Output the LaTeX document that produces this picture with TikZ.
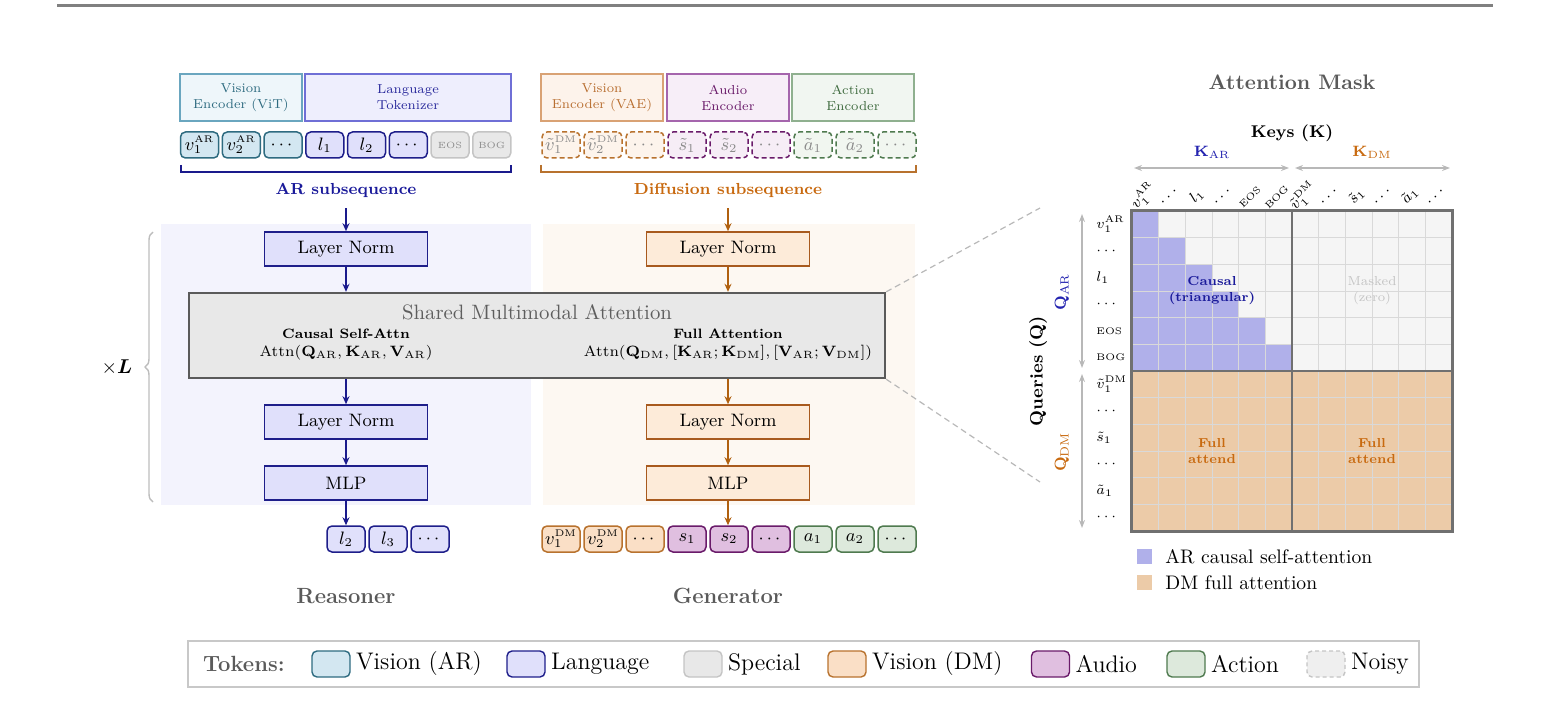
\RequirePackage{fix-cm}
\documentclass[tikz,border=0pt]{standalone}
\usepackage{amsmath,bm}
\usetikzlibrary{arrows.meta,decorations.pathreplacing,calc}
\newcommand\tsup[1]{\mbox{\fontsize{4.8}{5}\selectfont #1}}
\definecolor{cVarF}{HTML}{D3E7F1}\definecolor{cVarD}{HTML}{2E6B80}
\definecolor{cLanF}{HTML}{E0E0FB}\definecolor{cLanD}{HTML}{1E1E8A}
\definecolor{cSpF}{HTML}{E8E8E8}\definecolor{cSpD}{HTML}{C4C4C4}
\definecolor{cVdmF}{HTML}{FADFC6}\definecolor{cVdmD}{HTML}{B8722E}
\definecolor{cAuF}{HTML}{E0BFE0}\definecolor{cAuD}{HTML}{6A1B6A}
\definecolor{cAcF}{HTML}{DDE9DC}\definecolor{cAcD}{HTML}{4F7A4F}
\definecolor{cNvF}{HTML}{FDF4EC}\definecolor{cNaF}{HTML}{F6EDF6}\definecolor{cNcF}{HTML}{F1F6F0}
\definecolor{cVitF}{HTML}{EEF6FA}\definecolor{cVitD}{HTML}{6AA6BF}\definecolor{cVitT}{HTML}{2E6B80}
\definecolor{cTokF}{HTML}{EEEEFD}\definecolor{cTokD}{HTML}{6F6FD6}\definecolor{cTokT}{HTML}{2A2A9C}
\definecolor{cVaeF}{HTML}{FDF3EB}\definecolor{cVaeD}{HTML}{D9A274}\definecolor{cVaeT}{HTML}{B86E30}
\definecolor{cAenF}{HTML}{F7EEF8}\definecolor{cAenD}{HTML}{A565AD}\definecolor{cAenT}{HTML}{6A1B6A}
\definecolor{cCenF}{HTML}{F1F6F1}\definecolor{cCenD}{HTML}{8FB08F}\definecolor{cCenT}{HTML}{3F6B3F}
\definecolor{cPanL}{HTML}{F3F3FD}\definecolor{cPanR}{HTML}{FDF8F2}
\definecolor{cLnRF}{HTML}{FDEBD9}\definecolor{cLnRD}{HTML}{A85A1E}
\definecolor{cShF}{HTML}{E8E8E8}\definecolor{cShD}{HTML}{5A5A5A}\definecolor{cShT}{HTML}{5E5E5E}
\definecolor{cArL}{HTML}{1A1A8C}\definecolor{cArR}{HTML}{B0600F}
\definecolor{cARt}{HTML}{1A1A9A}\definecolor{cDMt}{HTML}{C8690F}
\definecolor{cBrace}{HTML}{BDBDBD}\definecolor{cRule}{HTML}{808080}
\definecolor{cBlueM}{HTML}{B0B0EA}\definecolor{cGrayM}{HTML}{F5F5F5}\definecolor{cOrM}{HTML}{ECCBA8}
\definecolor{cGrid}{HTML}{D9D9D9}\definecolor{cQb}{HTML}{707070}
\definecolor{cGArr}{HTML}{B8B8B8}\definecolor{cKar}{HTML}{2424B0}\definecolor{cKdm}{HTML}{C86A10}
\definecolor{cLegD}{HTML}{C8C8C8}\definecolor{cGrayT}{HTML}{5A5A5A}\definecolor{cMaskT}{HTML}{C4C4C4}
\definecolor{cNoisyT}{HTML}{8A8A8A}
\begin{document}
\begin{tikzpicture}[x=0.5pt,y=-0.5pt,
  tokbase/.style={rounded corners=2.5pt, minimum width=19pt, minimum height=13pt, inner sep=0pt, line width=0.75pt, font=\fontsize{9}{10}\selectfont},
  tvar/.style={tokbase, draw=cVarD, fill=cVarF},
  tlan/.style={tokbase, draw=cLanD, fill=cLanF},
  tspc/.style={tokbase, draw=cSpD, fill=cSpF, text=cNoisyT, font=\fontsize{4.5}{5}\selectfont},
  tvdm/.style={tokbase, draw=cVdmD, fill=cVdmF},
  taud/.style={tokbase, draw=cAuD, fill=cAuF},
  tact/.style={tokbase, draw=cAcD, fill=cAcF},
  nvdm/.style={tokbase, dash pattern=on 2.5pt off 1.5pt, draw=cVdmD, fill=cNvF, text=cNoisyT},
  naud/.style={tokbase, dash pattern=on 2.5pt off 1.5pt, draw=cAuD, fill=cNaF, text=cNoisyT},
  nact/.style={tokbase, dash pattern=on 2.5pt off 1.5pt, draw=cAcD, fill=cNcF, text=cNoisyT},
  enc/.style={minimum height=23.5pt, inner sep=0pt, line width=0.6pt, align=center, font=\fontsize{6.5}{8}\selectfont},
  blk/.style={minimum width=81.5pt, minimum height=17pt, inner sep=0pt, line width=0.8pt, font=\fontsize{9}{10}\selectfont},
  blkL/.style={blk, draw=cLanD, fill=cLanF},
  blkR/.style={blk, draw=cLnRD, fill=cLnRF},
  arL/.style={draw=cArL, line width=0.75pt, -{Stealth[length=4pt,width=3.5pt]}},
  arR/.style={draw=cArR, line width=0.75pt, -{Stealth[length=4pt,width=3.5pt]}},
  garr/.style={draw=cGArr, line width=0.6pt, {Stealth[length=4pt,width=3pt]}-{Stealth[length=4pt,width=3pt]}},
  zoomln/.style={draw=cGArr, line width=0.6pt, dash pattern=on 3pt off 2pt},
  gridl/.style={draw=cGrid, line width=0.5pt},
  qb/.style={draw=cQb, line width=1.2pt},
  lsw/.style={rounded corners=2.5pt, minimum width=19pt, minimum height=13pt, inner sep=0pt, line width=0.7pt},
  ltx/.style={anchor=west, font=\fontsize{12}{14}\selectfont, inner sep=2.5pt},
  collab/.style={rotate=45, font=\fontsize{7.5}{8}\selectfont, inner sep=0pt},
  rowlab/.style={anchor=west, font=\fontsize{7}{8}\selectfont, inner sep=0pt},
  tinyf/.style={font=\fontsize{4.8}{5}\selectfont}
]
\useasboundingbox (0,0) rectangle (1553,701);
\draw[draw=cRule, line width=1.4pt] (57,5.3) -- (1493,5.3);

% panels
\fill[cPanL] (161,224) rectangle (531,505);
\fill[cPanR] (543,224) rectangle (915,505);

% encoders
\node[enc, draw=cVitD, fill=cVitF, text=cVitT, minimum width=61pt] (evit) at (241,97.5) {Vision\\Encoder (ViT)};
\node[enc, draw=cTokD, fill=cTokF, text=cTokT, minimum width=103pt] (etok) at (408,97.5) {Language\\Tokenizer};
\node[enc, draw=cVaeD, fill=cVaeF, text=cVaeT, minimum width=61pt] (evae) at (602,97.5) {Vision\\Encoder (VAE)};
\node[enc, draw=cAenD, fill=cAenF, text=cAenT, minimum width=61pt] (eaud) at (728,97.5) {Audio\\Encoder};
\node[enc, draw=cCenD, fill=cCenF, text=cCenT, minimum width=61pt] (eact) at (853,97.5) {Action\\Encoder};

% input tokens AR
\node[tvar] (ta0) at (199.5,145) {$v_1^{\tsup{AR}}$};
\node[tvar] (ta1) at (241.25,145) {$v_2^{\tsup{AR}}$};
\node[tvar] (ta2) at (283,145) {$\cdots$};
\node[tlan] (ta3) at (324.75,145) {$l_1$};
\node[tlan] (ta4) at (366.5,145) {$l_2$};
\node[tlan] (ta5) at (408.25,145) {$\cdots$};
\node[tspc] (ta6) at (450,145) {EOS};
\node[tspc] (ta7) at (491.75,145) {BOG};

% input tokens noisy
\node[nvdm] (tb0) at (561,145) {$\tilde v_1^{\tsup{DM}}$};
\node[nvdm] (tb1) at (603,145) {$\tilde v_2^{\tsup{DM}}$};
\node[nvdm] (tb2) at (645,145) {$\cdots$};
\node[naud] (tb3) at (687,145) {$\tilde s_1$};
\node[naud] (tb4) at (729,145) {$\tilde s_2$};
\node[naud] (tb5) at (771,145) {$\cdots$};
\node[nact] (tb6) at (813,145) {$\tilde a_1$};
\node[nact] (tb7) at (855,145) {$\tilde a_2$};
\node[nact] (tb8) at (897,145) {$\cdots$};

% brackets
\draw[cArL, line width=0.9pt] (181,165) -- (181,172) -- (511,172) -- (511,165);
\draw[cVdmD, line width=0.9pt] (541,165) -- (541,172) -- (916,172) -- (916,165);

\node[font=\bfseries\fontsize{8}{9}\selectfont, text=cARt] (arlab) at (346,190) {AR subsequence};
\node[font=\bfseries\fontsize{8}{9}\selectfont, text=cDMt] (dmlab) at (728,190) {Diffusion subsequence};

% blocks
\node[blkL] (ln1L) at (346,249) {Layer Norm};
\node[blkR] (ln1R) at (728,249) {Layer Norm};
\node[draw=cShD, fill=cShF, line width=1.2pt, minimum width=348pt, minimum height=42.5pt, inner sep=0pt] (shared) at (537,335.5) {};
\node[font=\fontsize{10.4}{12}\selectfont, text=cShT] (shtitle) at (537,312) {Shared Multimodal Attention};
\node[font=\bfseries\fontsize{6.8}{8}\selectfont] (csa) at (346,334) {Causal Self-Attn};
\node[font=\fontsize{7.5}{9}\selectfont] (csaf) at (346,353) {$\mathrm{Attn}(\mathbf{Q}_{\mathrm{AR}},\mathbf{K}_{\mathrm{AR}},\mathbf{V}_{\mathrm{AR}})$};
\node[font=\bfseries\fontsize{6.8}{8}\selectfont] (fa) at (728,334) {Full Attention};
\node[font=\fontsize{7.5}{9}\selectfont] (faf) at (728,353) {$\mathrm{Attn}(\mathbf{Q}_{\mathrm{DM}},[\mathbf{K}_{\mathrm{AR}};\mathbf{K}_{\mathrm{DM}}],[\mathbf{V}_{\mathrm{AR}};\mathbf{V}_{\mathrm{DM}}])$};
\node[blkL] (ln2L) at (346,422) {Layer Norm};
\node[blkR] (ln2R) at (728,422) {Layer Norm};
\node[blkL] (mlpL) at (346,483) {MLP};
\node[blkR] (mlpR) at (728,483) {MLP};

% output tokens
\node[tlan] (oa0) at (346,539) {$l_2$};
\node[tlan] (oa1) at (388,539) {$l_3$};
\node[tlan] (oa2) at (430,539) {$\cdots$};
\node[tvdm] (ob0) at (561,539) {$v_1^{\tsup{DM}}$};
\node[tvdm] (ob1) at (603,539) {$v_2^{\tsup{DM}}$};
\node[tvdm] (ob2) at (645,539) {$\cdots$};
\node[taud] (ob3) at (687,539) {$s_1$};
\node[taud] (ob4) at (729,539) {$s_2$};
\node[taud] (ob5) at (771,539) {$\cdots$};
\node[tact] (ob6) at (813,539) {$a_1$};
\node[tact] (ob7) at (855,539) {$a_2$};
\node[tact] (ob8) at (897,539) {$\cdots$};

% arrows
\draw[arL, shorten <=2pt] (arlab) -- (ln1L);
\draw[arL] (ln1L) -- (ln1L |- shared.north);
\draw[arL] (ln2L |- shared.south) -- (ln2L);
\draw[arL] (ln2L) -- (mlpL);
\draw[arL] (mlpL) -- (mlpL |- oa0.north);
\draw[arR, shorten <=2pt] (dmlab) -- (ln1R);
\draw[arR] (ln1R) -- (ln1R |- shared.north);
\draw[arR] (ln2R |- shared.south) -- (ln2R);
\draw[arR] (ln2R) -- (mlpR);
\draw[arR] (mlpR) -- (mlpR |- ob4.north);

% x L brace
\draw[decorate, decoration={brace, amplitude=4pt}, draw=cBrace, line width=0.7pt] (153,502) -- (153,232);
\node[font=\fontsize{10}{12}\selectfont] (xl) at (117,367) {$\times\bm{L}$};

\node[font=\bfseries\fontsize{11}{13}\selectfont, text=cGrayT] (reas) at (346,596) {Reasoner};
\node[font=\bfseries\fontsize{11}{13}\selectfont, text=cGrayT] (gen) at (728,596) {Generator};

% ---------------- attention mask ----------------
\node[font=\bfseries\fontsize{10.5}{12}\selectfont, text=cGrayT] (amt) at (1292,82) {Attention Mask};
\node[font=\bfseries\fontsize{8.5}{10}\selectfont] (keys) at (1292,133) {Keys ($\mathbf{K}$)};
\node[font=\fontsize{7.5}{9}\selectfont, text=cKar] (kar) at (1212,152) {$\mathbf{K}_{\mathrm{AR}}$};
\node[font=\fontsize{7.5}{9}\selectfont, text=cKdm] (kdm) at (1372,152) {$\mathbf{K}_{\mathrm{DM}}$};
\coordinate (ka1) at (1134,168); \coordinate (ka2) at (1289,168);
\coordinate (kd1) at (1295,168); \coordinate (kd2) at (1450,168);
\draw[garr] (ka1) -- (ka2);
\draw[garr] (kd1) -- (kd2);

% grid
\fill[cGrayM] (1132,211) rectangle (1452,371);
\fill[cOrM] (1132,371) rectangle (1452,531);
\foreach \i in {0,...,5} {
  \foreach \j in {0,...,\i} {
    \fill[cBlueM] ({1132+26.6667*\j},{211+26.6667*\i}) rectangle ++(26.6667,26.6667);
  }
}
\foreach \k in {1,...,11} {
  \draw[gridl] ({1132+26.6667*\k},211) -- ++(0,320);
  \draw[gridl] (1132,{211+26.6667*\k}) -- ++(320,0);
}
\node[minimum width=160pt, minimum height=160pt, inner sep=0pt] (mask) at (1292,371) {};
\draw[qb] (mask.north west) rectangle (mask.south east);
\draw[qb] (mask.north) -- (mask.south);
\draw[qb] (mask.west) -- (mask.east);

\node[font=\bfseries\fontsize{6.5}{8}\selectfont, text=cARt, align=center] (qcaus) at (1212,291) {Causal\\(triangular)};
\node[font=\fontsize{6.5}{8}\selectfont, text=cMaskT, align=center] (qmask) at (1372,291) {Masked\\(zero)};
\node[font=\bfseries\fontsize{6.5}{8}\selectfont, text=cKdm, align=center] (qfa1) at (1212,451) {Full\\attend};
\node[font=\bfseries\fontsize{6.5}{8}\selectfont, text=cKdm, align=center] (qfa2) at (1372,451) {Full\\attend};

% column labels
\foreach \j/\t in {0/{$v_1^{\tsup{AR}}$},1/{$\cdots$},2/{$l_1$},3/{$\cdots$},6/{$\tilde v_1^{\tsup{DM}}$},7/{$\cdots$},8/{$\tilde s_1$},9/{$\cdots$},10/{$\tilde a_1$},11/{$\cdots$}}
  \node[collab] (cl\j) at ({1132+26.6667*(\j+0.5)-2},196) {\t};
\node[collab, tinyf] (cl4) at ({1132+26.6667*4.5-2},197) {EOS};
\node[collab, tinyf] (cl5) at ({1132+26.6667*5.5-2},197) {BOG};

% row labels
\foreach \i/\t in {0/{$v_1^{\tsup{AR}}$},1/{$\cdots$},2/{$l_1$},3/{$\cdots$},6/{$\tilde v_1^{\tsup{DM}}$},7/{$\cdots$},8/{$\tilde s_1$},9/{$\cdots$},10/{$\tilde a_1$},11/{$\cdots$}}
  \node[rowlab] (rl\i) at (1096,{211+26.6667*(\i+0.5)}) {\t};
\node[rowlab, tinyf] (rl4) at (1096,{211+26.6667*4.5}) {EOS};
\node[rowlab, tinyf] (rl5) at (1096,{211+26.6667*5.5}) {BOG};

\coordinate (qa1) at (1082,214); \coordinate (qa2) at (1082,368);
\coordinate (qd1) at (1082,374); \coordinate (qd2) at (1082,528);
\draw[garr] (qa1) -- (qa2);
\draw[garr] (qd1) -- (qd2);
\node[rotate=90, font=\fontsize{8}{9}\selectfont, text=cKar] (qar) at (1062,292) {$\mathbf{Q}_{\mathrm{AR}}$};
\node[rotate=90, font=\fontsize{8}{9}\selectfont, text=cKdm] (qdm) at (1062,452) {$\mathbf{Q}_{\mathrm{DM}}$};
\node[rotate=90, font=\bfseries\fontsize{9}{10}\selectfont] (queries) at (1038,371) {Queries ($\mathbf{Q}$)};

% zoom lines
\coordinate (mzA) at (1040,208);
\coordinate (mzB) at (1040,482);
\draw[zoomln] (shared.north east) -- (mzA);
\draw[zoomln] (shared.south east) -- (mzB);

% mask legend
\node[fill=cBlueM, minimum size=7.5pt, inner sep=0pt] (mlg1) at (1144.5,556.5) {};
\node[anchor=west, font=\fontsize{9.8}{11}\selectfont, xshift=3pt] (mlt1) at (mlg1.east) {AR causal self-attention};
\node[fill=cOrM, minimum size=7.5pt, inner sep=0pt] (mlg2) at (1144.5,582.5) {};
\node[anchor=west, font=\fontsize{9.8}{11}\selectfont, xshift=3pt] (mlt2) at (mlg2.east) {DM full attention};

% bottom legend
\node[draw=cLegD, line width=0.6pt, minimum width=615.5pt, minimum height=23pt, inner sep=0pt] (legend) at (803.5,664) {};
\node[anchor=west, font=\bfseries\fontsize{11}{13}\selectfont, text=cGrayT] (lgt) at (196,664) {Tokens:};
\node[lsw, draw=cVarD, fill=cVarF] (ls1) at (331,664) {};
\node[ltx] (lt1) at (ls1.east) {Vision (AR)};
\node[lsw, draw=cLanD, fill=cLanF] (ls2) at (526,664) {};
\node[ltx] (lt2) at (ls2.east) {Language};
\node[lsw, draw=cSpD, fill=cSpF] (ls3) at (703,664) {};
\node[ltx] (lt3) at (ls3.east) {Special};
\node[lsw, draw=cVdmD, fill=cVdmF] (ls4) at (847,664) {};
\node[ltx] (lt4) at (ls4.east) {Vision (DM)};
\node[lsw, draw=cAuD, fill=cAuF] (ls5) at (1050.5,664) {};
\node[ltx] (lt5) at (ls5.east) {Audio};
\node[lsw, draw=cAcD, fill=cAcF] (ls6) at (1186,664) {};
\node[ltx] (lt6) at (ls6.east) {Action};
\node[lsw, draw=cSpD, fill=cSpF!70, dash pattern=on 2pt off 1.5pt] (ls7) at (1326,664) {};
\node[ltx] (lt7) at (ls7.east) {Noisy};
\end{tikzpicture}
\end{document}
